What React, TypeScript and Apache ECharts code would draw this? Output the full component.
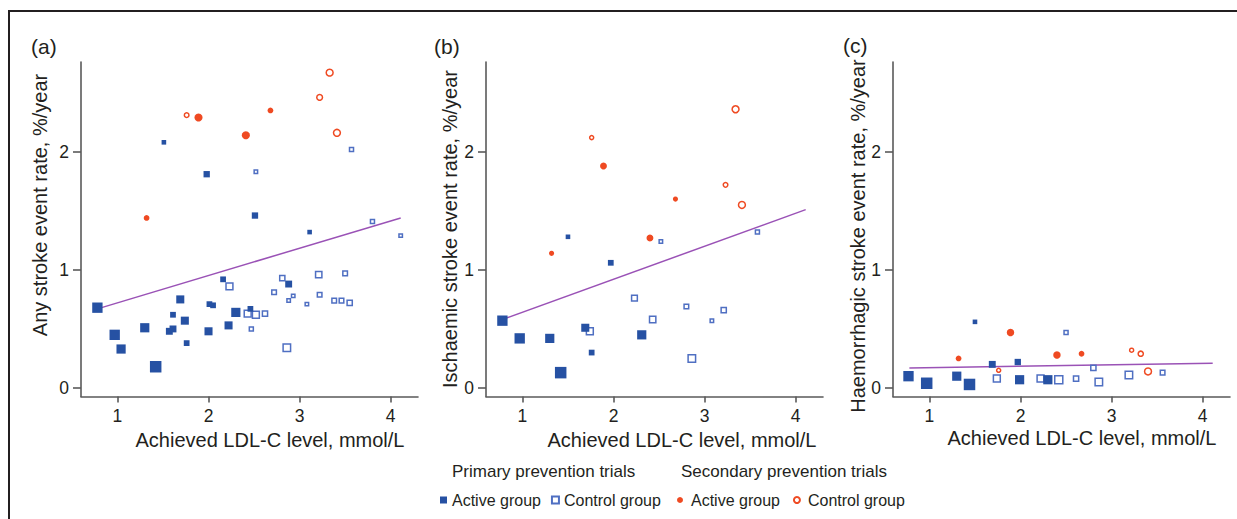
import React, { useEffect, useRef } from 'react';
import * as echarts from 'echarts';

// ---------- data ----------
const xTicks = [1, 2, 3, 4];
const yTicks = [0, 1, 2];
const panelLetters = ['(a)', '(b)', '(c)'];
const yTitles = [
  'Any stroke event rate, %/year',
  'Ischaemic stroke event rate, %/year',
  'Haemorrhagic stroke event rate, %/year',
];
const xTitle = 'Achieved LDL-C level, mmol/L';
const primaryHeader = 'Primary prevention trials';
const secondaryHeader = 'Secondary prevention trials';

// [LDL-C, event rate, marker size]
const anyPrimaryActive = [
  [0.78, 0.68, 9], [0.97, 0.45, 9], [1.04, 0.33, 8], [1.30, 0.51, 8], [1.42, 0.18, 10],
  [1.51, 2.08, 4], [1.57, 0.48, 6], [1.61, 0.50, 6], [1.61, 0.62, 5], [1.69, 0.75, 7],
  [1.74, 0.57, 7], [1.76, 0.38, 5], [1.98, 1.81, 5.5], [2.00, 0.48, 7], [2.01, 0.71, 5],
  [2.05, 0.70, 5], [2.16, 0.92, 5], [2.22, 0.53, 7], [2.30, 0.64, 8], [2.46, 0.67, 5],
  [2.51, 1.46, 5.5], [2.88, 0.88, 6], [3.11, 1.32, 4],
];
const anyPrimaryControl = [
  [2.23, 0.86, 6], [2.43, 0.63, 6], [2.52, 0.62, 6], [2.62, 0.63, 4.5], [2.47, 0.50, 3.5],
  [2.72, 0.81, 4], [2.81, 0.93, 4.5], [2.88, 0.74, 3], [2.93, 0.78, 3], [2.86, 0.34, 6.5],
  [3.08, 0.71, 3], [3.21, 0.96, 5.5], [3.22, 0.79, 4], [3.38, 0.74, 4], [3.46, 0.74, 4],
  [3.55, 0.72, 4.5], [3.50, 0.97, 4], [3.57, 2.02, 3.5], [2.52, 1.83, 3], [3.80, 1.41, 3.5],
  [4.11, 1.29, 3],
];
const anySecondaryActive = [[1.32, 1.44, 5], [1.89, 2.29, 7], [2.41, 2.14, 7], [2.68, 2.35, 5]];
const anySecondaryControl = [[1.76, 2.31, 4], [3.22, 2.46, 5], [3.33, 2.67, 6], [3.41, 2.16, 6]];
const anyFit = [[0.78, 0.67], [4.11, 1.44]];

const ischPrimaryActive = [
  [0.78, 0.57, 9], [0.97, 0.42, 9], [1.30, 0.42, 8], [1.42, 0.13, 10], [1.50, 1.28, 4],
  [1.69, 0.51, 7], [1.76, 0.30, 5], [1.97, 1.06, 5], [2.31, 0.45, 8],
];
const ischPrimaryControl = [
  [1.74, 0.48, 6], [2.23, 0.76, 5], [2.43, 0.58, 5.5], [2.52, 1.24, 3], [2.80, 0.69, 4],
  [2.86, 0.25, 6.5], [3.08, 0.57, 3], [3.21, 0.66, 4.5], [3.58, 1.32, 3.5],
];
const ischSecondaryActive = [[1.32, 1.14, 4.5], [1.89, 1.88, 6], [2.40, 1.27, 6], [2.68, 1.60, 4.5]];
const ischSecondaryControl = [[1.76, 2.12, 3.5], [3.23, 1.72, 4], [3.34, 2.36, 6], [3.41, 1.55, 6]];
const ischFit = [[0.78, 0.58], [4.11, 1.51]];

const haemPrimaryActive = [
  [0.77, 0.10, 9], [0.97, 0.04, 10], [1.30, 0.10, 8], [1.44, 0.03, 10], [1.50, 0.56, 4],
  [1.69, 0.20, 6], [1.97, 0.22, 5.5], [1.99, 0.07, 8], [2.30, 0.07, 8],
];
const haemPrimaryControl = [
  [1.74, 0.08, 6], [2.22, 0.08, 6], [2.42, 0.07, 7], [2.50, 0.47, 3.5], [2.61, 0.08, 4.5],
  [2.80, 0.17, 4.5], [2.86, 0.05, 6.5], [3.19, 0.11, 6.5], [3.56, 0.13, 4],
];
const haemSecondaryActive = [[1.32, 0.25, 5], [1.89, 0.47, 6.5], [2.40, 0.28, 6.5], [2.67, 0.29, 5]];
const haemSecondaryControl = [[1.76, 0.15, 3.5], [3.22, 0.32, 3.5], [3.32, 0.29, 4.5], [3.40, 0.14, 6]];
const haemFit = [[0.78, 0.17], [4.11, 0.21]];

// ---------- styling / layout ----------
const FONT = '"Liberation Sans", Arial, Helvetica, sans-serif';
const TEXT = '#231f20';
const AXIS = '#5a5a5a';
const BLUE = '#2651a3';
const BLUE_LIGHT = '#4f6fc2';
const RED = '#ef4a22';
const PURPLE = '#9a52b6';
const MARKER_SCALE = 1.15;

const GRID_LEFT = [81, 486, 893];
const GRID_TOP = 62;
const GRID_W = 337;
const GRID_H = 334.5;

const letterPos = [[31, 46], [434, 46], [843, 45]];
const yTitlePos = [[40, 205], [450, 229], [858, 236]];
const xTitlePos = [[270, 440], [682, 440], [1082, 438]];

const panels = [
  { pa: anyPrimaryActive, pc: anyPrimaryControl, sa: anySecondaryActive, sc: anySecondaryControl, fit: anyFit },
  { pa: ischPrimaryActive, pc: ischPrimaryControl, sa: ischSecondaryActive, sc: ischSecondaryControl, fit: ischFit },
  { pa: haemPrimaryActive, pc: haemPrimaryControl, sa: haemSecondaryActive, sc: haemSecondaryControl, fit: haemFit },
];

const legendNames: Record<string, string> = {
  'Primary active': 'Active group',
  'Primary control': 'Control group',
  'Secondary active': 'Active group',
  'Secondary control': 'Control group',
};

function buildOption() {
  const grid: any[] = [];
  const xAxis: any[] = [];
  const yAxis: any[] = [];
  const series: any[] = [];
  const graphic: any[] = [];

  panels.forEach((p, i) => {
    grid.push({ left: GRID_LEFT[i], top: GRID_TOP, width: GRID_W, height: GRID_H, containLabel: false });
    xAxis.push({
      gridIndex: i,
      type: 'value',
      min: 0.6,
      max: 4.3,
      axisLine: { show: true, onZero: false, lineStyle: { color: AXIS, width: 1.6 } },
      axisTick: { show: true, customValues: xTicks, length: 6, lineStyle: { color: AXIS, width: 1.6 } },
      axisLabel: { customValues: xTicks, margin: 10, fontSize: 17.5, color: TEXT, fontFamily: FONT },
      splitLine: { show: false },
    });
    yAxis.push({
      gridIndex: i,
      type: 'value',
      min: -0.072,
      max: 2.76,
      axisLine: { show: true, onZero: false, lineStyle: { color: AXIS, width: 1.6 } },
      axisTick: { show: true, customValues: yTicks, length: 8, lineStyle: { color: AXIS, width: 1.6 } },
      axisLabel: { customValues: yTicks, margin: 12, fontSize: 17.5, color: TEXT, fontFamily: FONT },
      splitLine: { show: false },
    });

    series.push({
      type: 'line', name: 'fit', xAxisIndex: i, yAxisIndex: i, data: p.fit,
      showSymbol: false, symbol: 'none', z: 1,
      lineStyle: { color: PURPLE, width: 1.5 },
    });
    const sizeFn = (v: number[]) => v[2] * MARKER_SCALE;
    series.push({
      type: 'scatter', name: 'Primary control', xAxisIndex: i, yAxisIndex: i, data: p.pc,
      symbol: 'rect', symbolSize: sizeFn, z: 3,
      itemStyle: { color: '#ffffff', borderColor: BLUE_LIGHT, borderWidth: 1.5, opacity: 1 },
    });
    series.push({
      type: 'scatter', name: 'Primary active', xAxisIndex: i, yAxisIndex: i, data: p.pa,
      symbol: 'rect', symbolSize: sizeFn, z: 4,
      itemStyle: { color: BLUE, opacity: 1 },
    });
    series.push({
      type: 'scatter', name: 'Secondary control', xAxisIndex: i, yAxisIndex: i, data: p.sc,
      symbol: 'circle', symbolSize: sizeFn, z: 3,
      itemStyle: { color: '#ffffff', borderColor: RED, borderWidth: 1.5, opacity: 1 },
    });
    series.push({
      type: 'scatter', name: 'Secondary active', xAxisIndex: i, yAxisIndex: i, data: p.sa,
      symbol: 'circle', symbolSize: sizeFn, z: 4,
      itemStyle: { color: RED, opacity: 1 },
    });

    graphic.push({
      type: 'text', x: letterPos[i][0], y: letterPos[i][1],
      style: { text: panelLetters[i], fontSize: 21, fontFamily: FONT, fill: TEXT, textAlign: 'left', textVerticalAlign: 'middle' },
    });
    graphic.push({
      type: 'text', x: yTitlePos[i][0], y: yTitlePos[i][1], rotation: Math.PI / 2,
      style: { text: yTitles[i], fontSize: 20, fontFamily: FONT, fill: TEXT, textAlign: 'center', textVerticalAlign: 'middle' },
    });
    graphic.push({
      type: 'text', x: xTitlePos[i][0], y: xTitlePos[i][1],
      style: { text: xTitle, fontSize: 20, fontFamily: FONT, fill: TEXT, textAlign: 'center', textVerticalAlign: 'middle' },
    });
  });

  // frame
  graphic.push({ type: 'line', shape: { x1: 9, y1: 10, x2: 9, y2: 519 }, style: { stroke: TEXT, lineWidth: 2 } });
  graphic.push({ type: 'line', shape: { x1: 8, y1: 11, x2: 1237, y2: 11 }, style: { stroke: TEXT, lineWidth: 2 } });

  // legend headers
  graphic.push({
    type: 'text', x: 452, y: 471,
    style: { text: primaryHeader, fontSize: 17, fontFamily: FONT, fill: TEXT, textAlign: 'left', textVerticalAlign: 'middle' },
  });
  graphic.push({
    type: 'text', x: 681, y: 471,
    style: { text: secondaryHeader, fontSize: 17, fontFamily: FONT, fill: TEXT, textAlign: 'left', textVerticalAlign: 'middle' },
  });

  const legendText = { fontSize: 16, fontFamily: FONT, color: TEXT };
  const legend = [
    {
      left: 435, top: 487, orient: 'horizontal', itemWidth: 7, itemHeight: 7, itemGap: 10,
      data: ['Primary active', 'Primary control'], formatter: (n: string) => legendNames[n],
      textStyle: legendText, selectedMode: false,
    },
    {
      left: 672, top: 487, orient: 'horizontal', itemWidth: 6, itemHeight: 6, itemGap: 13,
      data: ['Secondary active', 'Secondary control'], formatter: (n: string) => legendNames[n],
      textStyle: { ...legendText, padding: [0, 0, 0, 3] }, selectedMode: false,
    },
  ];

  return {
    animation: false,
    backgroundColor: '#ffffff',
    textStyle: { fontFamily: FONT },
    grid,
    xAxis,
    yAxis,
    series,
    graphic,
    legend,
  };
}

export default function App() {
  const ref = useRef<HTMLDivElement>(null);
  useEffect(() => {
    if (!ref.current) return;
    const chart = echarts.init(ref.current, undefined, { renderer: 'svg' });
    chart.setOption(buildOption() as any);
    return () => chart.dispose();
  }, []);
  return (
    <div
      ref={ref}
      style={{ position: 'fixed', left: 0, top: 0, width: 1237, height: 519, background: '#fff' }}
    />
  );
}
